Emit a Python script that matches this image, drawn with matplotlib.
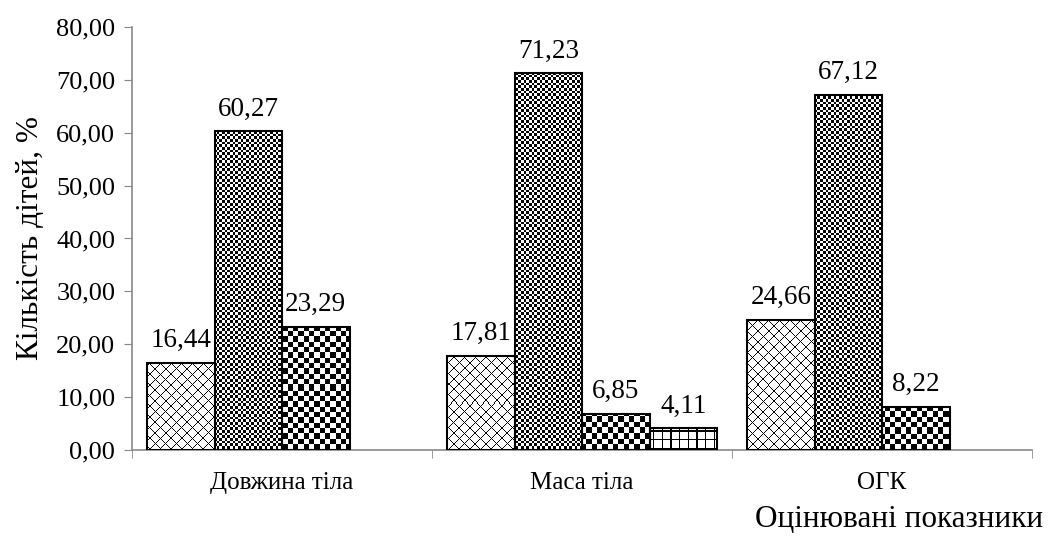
import matplotlib
matplotlib.use('Agg')
import matplotlib.pyplot as plt
import matplotlib.ticker as mticker
import numpy as np

plt.rcParams['font.family'] = ['Liberation Serif', 'DejaVu Serif']

# дані
categories = ['Довжина тіла', 'Маса тіла', 'ОГК']
s1 = [16.44, 17.81, 24.66]
s2 = [60.27, 71.23, 67.12]
s3 = [23.29, 6.85, 8.22]
s4 = [np.nan, 4.11, np.nan]
series = [s1, s2, s3, s4]

axis_color = '#898989'

fig = plt.figure(figsize=(10.56, 5.45), dpi=100)
ax = fig.add_axes([0.125, 0.1743, 0.8523, 0.7762])

x = np.arange(len(categories))
width = 0.225
offsets = (np.arange(4) - 1.5) * width

ax.set_xlim(-0.5, len(categories) - 0.5)
ax.set_ylim(0, 80)


# візерунки заливки (у пікселях екрана)
def diamond(X, Y):
    p = 10.67
    return ~(((X + Y) % p < 1.0) | ((X - Y) % p < 1.0))


def checker(c):
    def f(X, Y):
        return ((np.floor(X / c) + np.floor(Y / c)) % 2) == 0
    return f


def grid(X, Y):
    p = 8.7
    return ~((X % p < 1.3) | (Y % p < 1.3))


patterns = [diamond, checker(2.67), checker(5.33), grid]

for vals, off, pat in zip(series, offsets, patterns):
    bars = ax.bar(x + off, vals, width, facecolor='none', edgecolor='black',
                  linewidth=1.5, zorder=3)
    for b, v in zip(bars, vals):
        if np.isnan(v):
            continue
        bx, by, bw, bh = b.get_x(), b.get_y(), b.get_width(), b.get_height()
        (px0, py0) = ax.transData.transform((bx, by))
        (px1, py1) = ax.transData.transform((bx + bw, by + bh))
        w = max(int(round(px1 - px0)), 1)
        h = max(int(round(py1 - py0)), 1)
        xs = px0 + np.arange(w) + 0.5
        ys = py1 - np.arange(h) - 0.5
        X, Y = np.meshgrid(xs, ys)
        img = pat(X, Y).astype(float)
        ax.imshow(img, cmap='gray', vmin=0, vmax=1, extent=(bx, bx + bw, by, by + bh),
                  aspect='auto', interpolation='nearest', zorder=2)
        ax.annotate(f'{v:.2f}'.replace('.', ','), (b.get_x() + bw / 2, v),
                    xytext=(0, 7), textcoords='offset points',
                    ha='center', va='bottom', fontsize=19.5)

ax.set_xlim(-0.5, len(categories) - 0.5)
ax.set_ylim(0, 80)

# осі
for s in ['top', 'right']:
    ax.spines[s].set_visible(False)
for s in ['left', 'bottom']:
    ax.spines[s].set_color(axis_color)
    ax.spines[s].set_linewidth(1.2)

ax.yaxis.set_major_locator(mticker.MultipleLocator(10))
ax.yaxis.set_major_formatter(mticker.FuncFormatter(lambda v, p: f'{v:.2f}'.replace('.', ',')))
ax.tick_params(axis='y', direction='out', length=6, color=axis_color, labelsize=19, pad=6)

ax.set_xticks(x)
ax.set_xticklabels(categories)
ax.set_xticks(np.arange(len(categories) + 1) - 0.5, minor=True)
ax.tick_params(axis='x', which='major', length=0, labelsize=18, pad=16)
ax.tick_params(axis='x', which='minor', direction='out', length=6, color=axis_color)

ax.set_ylabel('Кількість дітей, %', fontsize=22.5, labelpad=8)
fig.text(0.988, 0.046, 'Оцінювані показники', ha='right', va='center', fontsize=22.5)

fig.savefig('out.png', dpi=100)
